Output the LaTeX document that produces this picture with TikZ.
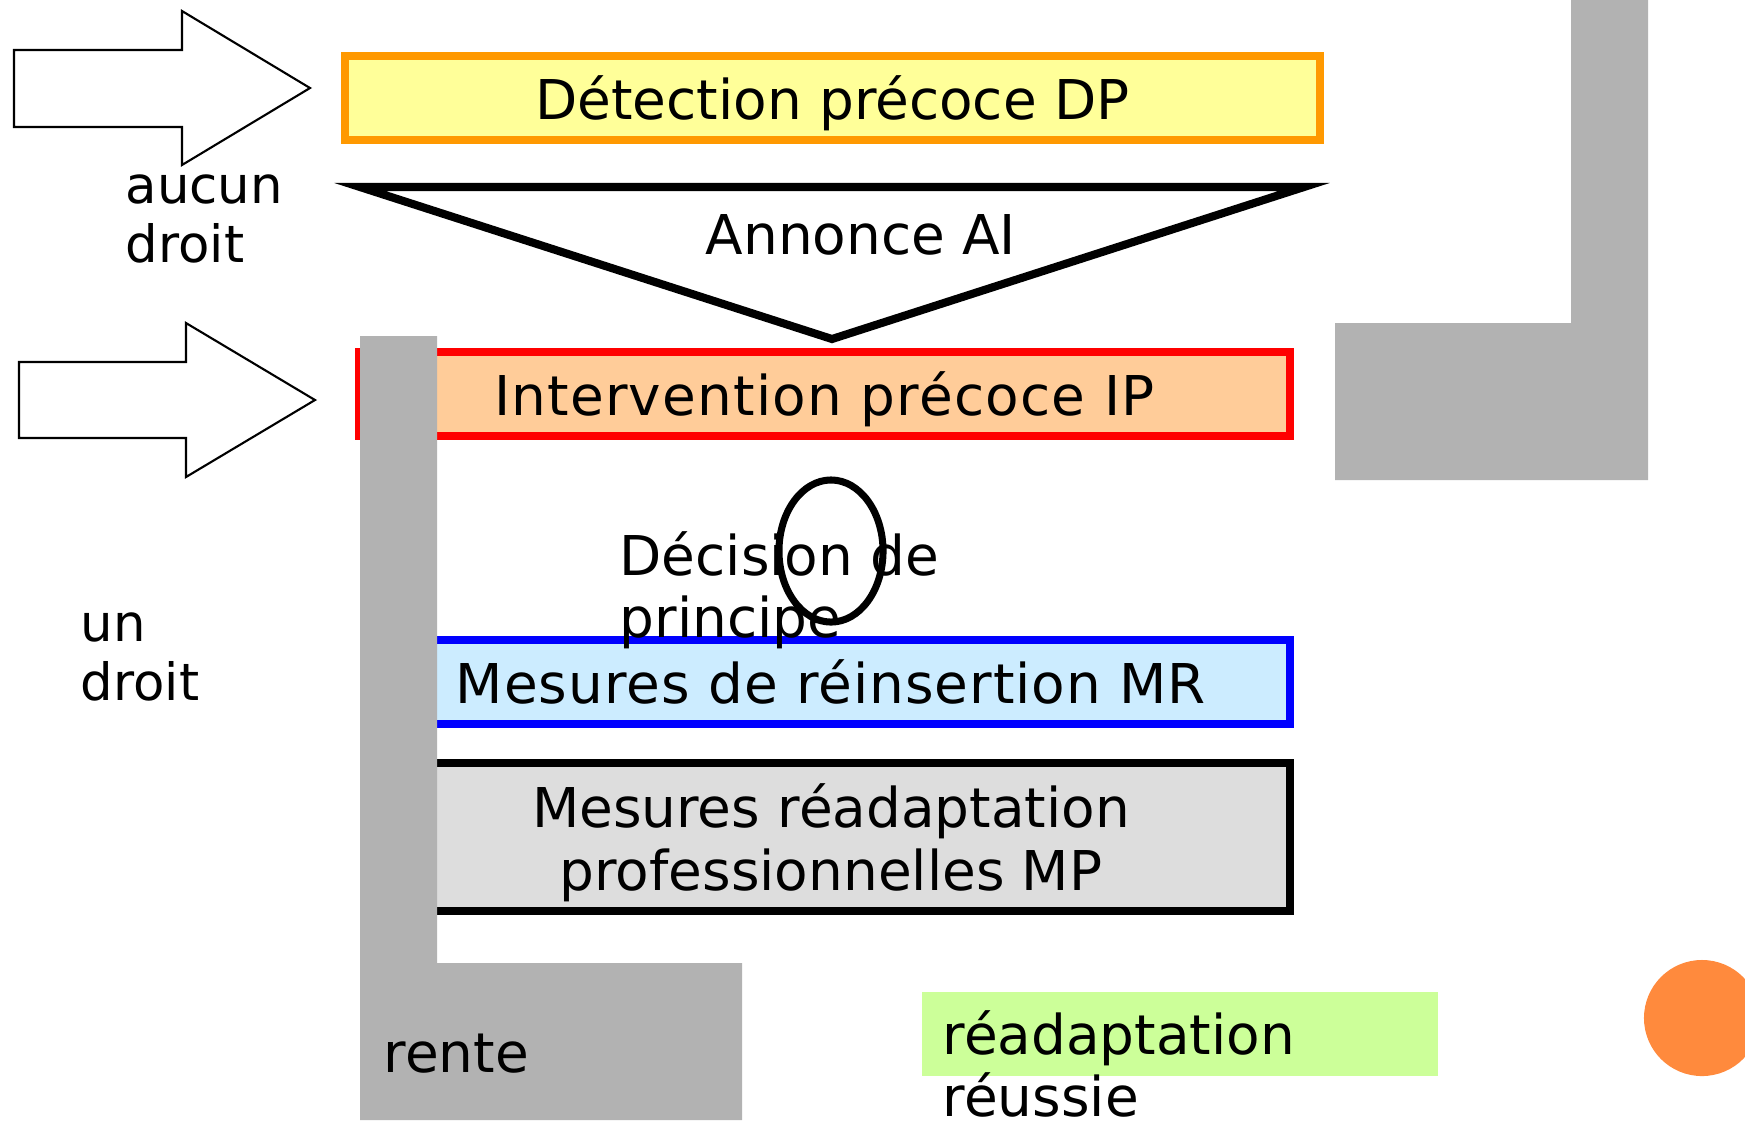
\documentclass[tikz,border=0pt]{standalone}
\usepackage{fontspec}
\setmainfont{DejaVu Sans}
\usetikzlibrary{shapes.geometric}
\definecolor{jauneDP}{HTML}{FFFF99}
\definecolor{orangeDP}{HTML}{FF9900}
\definecolor{saumonIP}{HTML}{FFCC99}
\definecolor{bleuMR}{HTML}{CCECFF}
\definecolor{grisMP}{HTML}{DDDDDD}
\definecolor{grisRente}{HTML}{B2B2B2}
\definecolor{vertRR}{HTML}{CCFF99}
\definecolor{orangeRond}{HTML}{FF8A3D}
\tikzset{
	every node/.style = {
		inner sep=0pt,
		font=\fontsize{15.6}{17.6}\selectfont
	},
	etape/.style = {
		shape=rectangle,
		draw,
		line width=2.3pt,
		align=center,
		text depth=0pt,
		minimum height=0.84cm
	},
	espace/.style = {font=\fontsize{15.6}{17.6}\selectfont\addfontfeature{LetterSpace=#1}},
	fleche/.style = {draw, line width=0.6pt, fill=white},
	barre/.style = {fill=grisRente},
	libre/.style = {align=left, anchor=base west},
	petit/.style = {font=\fontsize{14.6}{16.5}\selectfont}
}

\begin{document}
\begin{tikzpicture}[x=0.01cm, y=-0.01cm]
	\useasboundingbox (0,0) rectangle (1745,1120);
	\draw[fleche] (14,50) -- (182,50) -- (182,11) -- (310,88) -- (182,165) -- (182,127) -- (14,127) -- cycle;
	\draw[fleche] (19,362) -- (186,362) -- (186,323) -- (315,400) -- (186,477) -- (186,438) -- (19,438) -- cycle;
	\node[etape, draw=orangeDP, fill=jauneDP, minimum width=9.75cm] (dp) at (832.5,98) {Détection précoce DP};
	\draw[line width=2.3pt, fill=white] (360,187) coordinate (aiG) -- (1304,187) coordinate (aiD) -- (832,339) coordinate (aiB) -- cycle;
	\node[libre] (annonce) at (705,254) {Annonce AI};
	\node[etape, espace=2.2, draw=red, fill=saumonIP, minimum width=9.31cm] (ip) at (824.5,394) {Intervention précoce IP};
	\node[etape, espace=1.8, draw=blue, fill=bleuMR, minimum width=9.18cm] (mr) at (831,682) {Mesures de réinsertion MR};
	\node[etape, draw=black, fill=grisMP, minimum width=9.18cm, minimum height=1.48cm, font=\fontsize{15.6}{18}\selectfont] (mp) at (831,837) {Mesures réadaptation\\professionnelles MP};
	\fill[barre] (360,336) -- (437,336) -- (437,963) -- (742,963) -- (742,1120) -- (360,1120) -- cycle;
	\fill[barre] (1571,0) -- (1648,0) -- (1648,480) -- (1335,480) -- (1335,323) -- (1571,323) -- cycle;
	\node[ellipse, draw, line width=2pt, minimum width=1.04cm, minimum height=1.42cm] (decision) at (831,551) {};
	\node[libre] (principe) at (619,637) {Décision de\\principe};
	\node[libre, petit] (aucun) at (125,262) {aucun\\droit};
	\node[libre, petit] (undroit) at (80,700) {un\\droit};
	\node[libre] (rente) at (383,1072) {rente};
	\node[fill=vertRR, minimum width=5.16cm, minimum height=0.84cm] (vert) at (1180,1034) {};
	\node[libre] (reussie) at (942,1116) {réadaptation\\réussie};
	\node[circle, fill=orangeRond, minimum size=1.16cm] (rond) at (1702,1018) {};
\end{tikzpicture}
\end{document}
